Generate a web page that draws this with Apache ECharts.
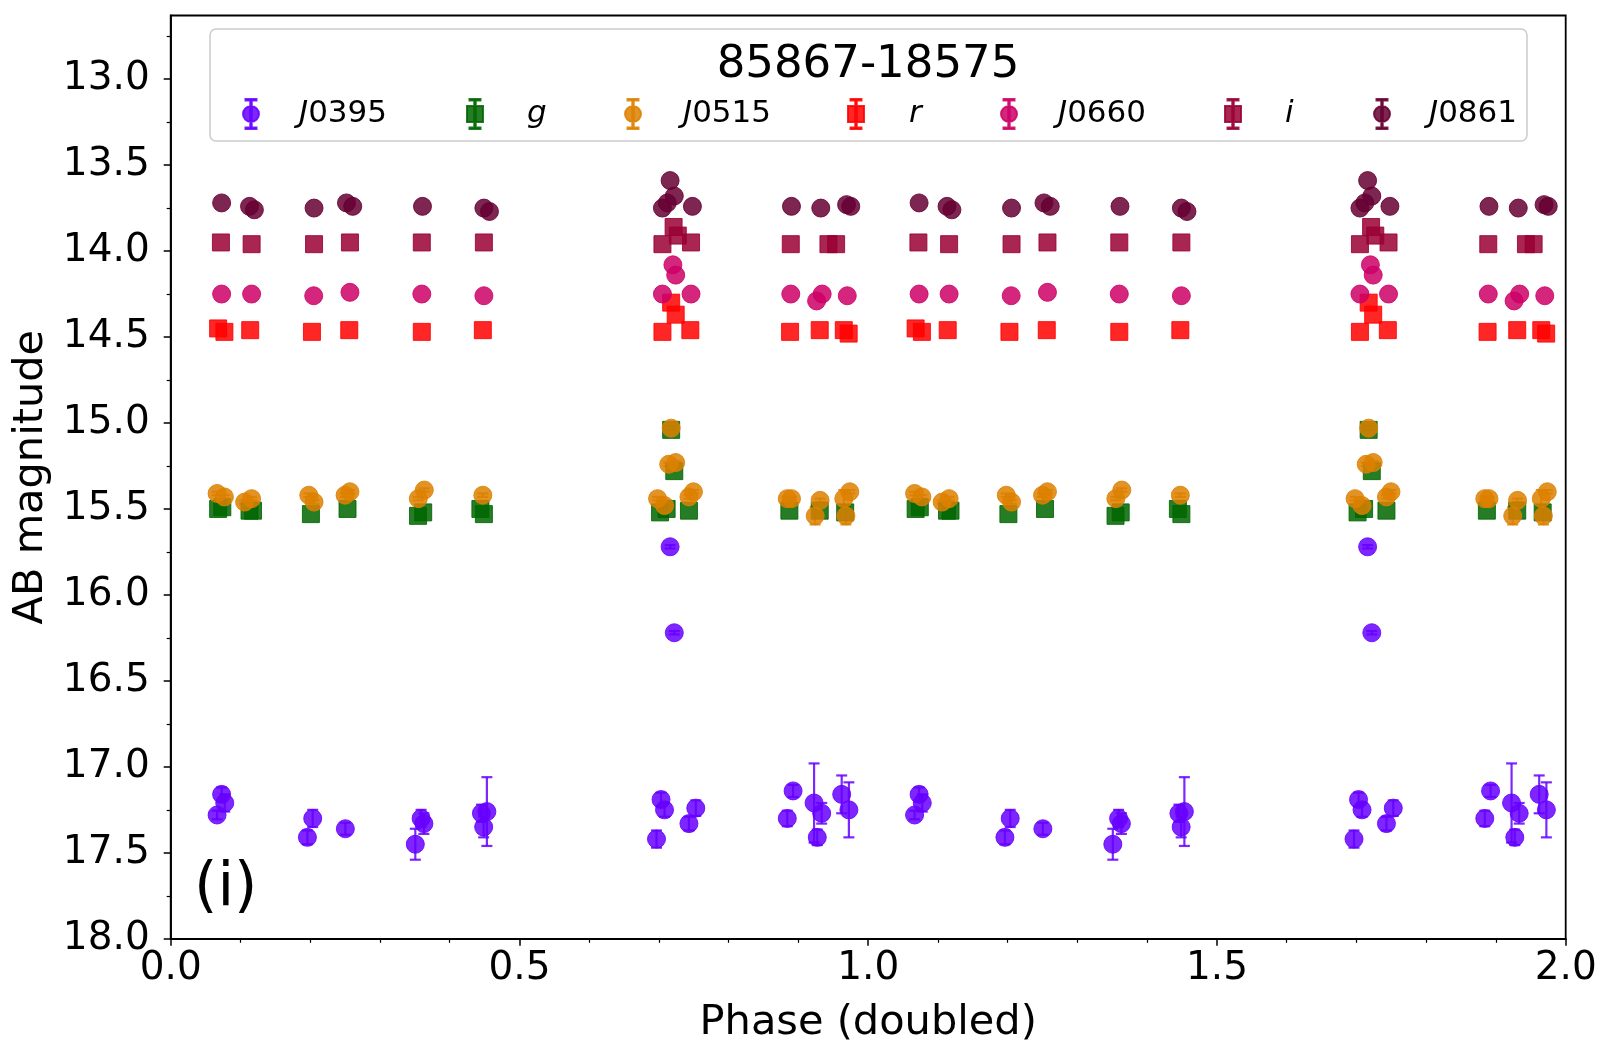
<!DOCTYPE html>
<html>
<head>
<meta charset="utf-8">
<title>85867-18575</title>
<script src="https://cdn.jsdelivr.net/npm/echarts@6/dist/echarts.min.js"></script>
<style>
  html, body { margin: 0; padding: 0; background: #fff; }
  #chart { width: 1615px; height: 1058px; }
</style>
</head>
<body>
<div id="chart"></div>
<script>
// phase-folded light curve, one cycle; plotted twice (phase and phase + 1)
var j0395Phase = [0.0665, 0.073, 0.0775, 0.196, 0.2036, 0.2504, 0.3507, 0.359, 0.363, 0.4455, 0.4487, 0.4533,
                  0.6965, 0.703, 0.708, 0.716, 0.722, 0.743, 0.7528, 0.884, 0.8923, 0.9224, 0.927, 0.9333, 0.962, 0.9723];
var j0395Mag   = [17.28, 17.16, 17.21, 17.41, 17.30, 17.36, 17.45, 17.30, 17.33, 17.27, 17.35, 17.26,
                  17.42, 17.19, 17.25, 15.72, 16.22, 17.33, 17.24, 17.30, 17.14, 17.21, 17.41, 17.27, 17.16, 17.25];
var j0395Err   = [0.025, 0.04, 0.05, 0.04, 0.05, 0.035, 0.09, 0.05, 0.06, 0.05, 0.06, 0.20,
                  0.05, 0.04, 0.04, 0.01, 0.01, 0.04, 0.045, 0.045, 0.035, 0.23, 0.045, 0.06, 0.11, 0.16];

var gPhase = [0.068, 0.074, 0.113, 0.118, 0.201, 0.2535, 0.3546, 0.362, 0.444, 0.449,
              0.7016, 0.711, 0.7175, 0.722, 0.743, 0.887, 0.9305, 0.967];
var gMag   = [15.50, 15.49, 15.51, 15.51, 15.53, 15.50, 15.54, 15.52, 15.50, 15.53,
              15.52, 15.50, 15.04, 15.28, 15.51, 15.51, 15.51, 15.52];

var j0515Phase = [0.0665, 0.077, 0.106, 0.116, 0.198, 0.2055, 0.250, 0.257, 0.355, 0.3636, 0.4475,
                  0.698, 0.708, 0.714, 0.7175, 0.724, 0.743, 0.7495, 0.884, 0.890, 0.924, 0.931, 0.965, 0.968, 0.9736];
var j0515Mag   = [15.41, 15.43, 15.46, 15.44, 15.42, 15.46, 15.42, 15.40, 15.44, 15.39, 15.42,
                  15.44, 15.48, 15.24, 15.03, 15.23, 15.43, 15.40, 15.44, 15.44, 15.54, 15.45, 15.44, 15.54, 15.40];
var j0515Err   = [0.01, 0.01, 0.01, 0.01, 0.01, 0.01, 0.01, 0.01, 0.01, 0.01, 0.01,
                  0.01, 0.01, 0.01, 0.01, 0.01, 0.01, 0.01, 0.01, 0.01, 0.05, 0.01, 0.05, 0.05, 0.01];

var rPhase = [0.068, 0.077, 0.114, 0.2025, 0.256, 0.360, 0.4475, 0.705, 0.7175, 0.724, 0.745, 0.888, 0.9305, 0.965, 0.972];
var rMag   = [14.45, 14.47, 14.46, 14.47, 14.46, 14.47, 14.46, 14.47, 14.30, 14.37, 14.46, 14.47, 14.46, 14.46, 14.48];

var j0660Phase = [0.073, 0.116, 0.205, 0.257, 0.360, 0.449, 0.705, 0.720, 0.724, 0.746, 0.889, 0.926, 0.934, 0.970];
var j0660Mag   = [14.25, 14.25, 14.26, 14.24, 14.25, 14.26, 14.25, 14.08, 14.14, 14.25, 14.25, 14.29, 14.25, 14.26];

var iPhase = [0.072, 0.116, 0.2055, 0.257, 0.360, 0.449, 0.705, 0.721, 0.727, 0.746, 0.889, 0.943, 0.954];
var iMag   = [13.95, 13.96, 13.96, 13.95, 13.95, 13.95, 13.96, 13.86, 13.91, 13.95, 13.96, 13.96, 13.96];

var j0861Phase = [0.073, 0.113, 0.120, 0.2055, 0.252, 0.261, 0.361, 0.449, 0.457, 0.705, 0.712, 0.716, 0.722, 0.748, 0.890, 0.932, 0.969, 0.975];
var j0861Mag   = [13.72, 13.74, 13.76, 13.75, 13.72, 13.74, 13.74, 13.75, 13.77, 13.75, 13.72, 13.59, 13.68, 13.74, 13.74, 13.75, 13.73, 13.74];

var yMajorTicks = [13.0, 13.5, 14.0, 14.5, 15.0, 15.5, 16.0, 16.5, 17.0, 17.5, 18.0];
var yMinorTicks = [12.75, 13.25, 13.75, 14.25, 14.75, 15.25, 15.75, 16.25, 16.75, 17.25, 17.75];

var bands = [
    { name: 'J0395', color: '#6600FF', symbol: 'circle', phase: j0395Phase, mag: j0395Mag, err: j0395Err },
    { name: 'g',     color: '#006600', symbol: 'rect',   phase: gPhase,     mag: gMag },
    { name: 'J0515', color: '#DD8000', symbol: 'circle', phase: j0515Phase, mag: j0515Mag, err: j0515Err },
    { name: 'r',     color: '#FF0000', symbol: 'rect',   phase: rPhase,     mag: rMag },
    { name: 'J0660', color: '#CC0066', symbol: 'circle', phase: j0660Phase, mag: j0660Mag },
    { name: 'i',     color: '#990033', symbol: 'rect',   phase: iPhase,     mag: iMag },
    { name: 'J0861', color: '#660033', symbol: 'circle', phase: j0861Phase, mag: j0861Mag }
];

// legend slot: icon left edge and gap before the text
var legendSlots = [[242, 35], [466, 39], [624, 37], [847, 40], [1000, 36], [1224, 39], [1373, 34]];

var FONT = 'DejaVu Sans';
var ALPHA = 0.85;

var circleIcon = 'path://M7.25,0h1.5v30h-1.5z M2.5,0h11v1.5h-11z M2.5,28.5h11v1.5h-11z ' +
    'M0,15a8,8 0 1,1 16,0a8,8 0 1,1 -16,0z';
var squareIcon = 'path://M7.25,0h1.5v30h-1.5z M2.5,0h11v1.5h-11z M2.5,28.5h11v1.5h-11z M0,7h16v16h-16z';

var doubled = function (phase, mag, err) {
    var out = [];
    for (var k = 0; k < 2; k++) {
        for (var n = 0; n < phase.length; n++) {
            out.push([phase[n] + k, mag[n], err ? err[n] : 0]);
        }
    }
    return out;
};

var errRender = function (color) {
    return function (params, api) {
        var x = api.value(0), y = api.value(1), e = api.value(2);
        if (!e) { return; }
        var a = api.coord([x, y - e]);
        var b = api.coord([x, y + e]);
        var hw = 5.5;
        var st = { stroke: color, lineWidth: 2.2, opacity: ALPHA };
        return {
            type: 'group',
            children: [
                { type: 'line', shape: { x1: a[0], y1: a[1], x2: b[0], y2: b[1] }, style: st },
                { type: 'line', shape: { x1: a[0] - hw, y1: a[1], x2: a[0] + hw, y2: a[1] }, style: st },
                { type: 'line', shape: { x1: b[0] - hw, y1: b[1], x2: b[0] + hw, y2: b[1] }, style: st }
            ]
        };
    };
};

var series = [];
bands.forEach(function (b) {
    var pts = doubled(b.phase, b.mag, b.err);
    if (b.err) {
        series.push({
            name: b.name + ' err',
            type: 'custom',
            renderItem: errRender(b.color),
            data: pts,
            encode: { x: 0, y: 1 },
            z: 1,
            silent: true
        });
    }
    series.push({
        name: b.name,
        type: 'scatter',
        data: pts,
        symbol: b.symbol,
        symbolSize: b.symbol === 'rect' ? 17 : 18,
        itemStyle: { color: b.color, opacity: ALPHA, borderColor: b.color, borderWidth: 1 },
        z: 2
    });
});

var legends = bands.map(function (b, n) {
    var slot = legendSlots[n];
    return {
        data: [b.name],
        left: slot[0],
        top: 98,
        padding: 0,
        itemWidth: 16,
        itemHeight: 30,
        icon: b.symbol === 'rect' ? squareIcon : circleIcon,
        itemStyle: { opacity: ALPHA },
        selectedMode: false,
        formatter: function (name) {
            if (name.charAt(0) === 'J') {
                return '{pad| }{it|J}{rm|' + name.slice(1) + '}';
            }
            return '{pad| }{it|' + name + '}';
        },
        textStyle: {
            fontFamily: FONT, fontSize: 31, color: '#000',
            rich: {
                pad: { width: slot[1], fontSize: 31, fontFamily: FONT },
                it: { fontStyle: 'italic', fontSize: 31, fontFamily: FONT, color: '#000' },
                rm: { fontSize: 31, fontFamily: FONT, color: '#000' }
            }
        }
    };
});

var chart = echarts.init(document.getElementById('chart'));
chart.setOption({
    animation: false,
    backgroundColor: '#fff',
    grid: {
        left: 170.7, right: 49.3, top: 15.5, bottom: 119.2,
        show: true, borderColor: '#000', borderWidth: 1.8, backgroundColor: 'transparent'
    },
    legend: legends,
    xAxis: {
        type: 'value',
        min: 0, max: 2, interval: 0.5,
        name: 'Phase (doubled)',
        nameLocation: 'middle',
        nameGap: 63,
        nameTextStyle: { fontFamily: FONT, fontSize: 41.5, color: '#000' },
        axisLine: { show: true, onZero: false, lineStyle: { color: '#000', width: 1.8 } },
        axisTick: { show: true, length: 7, lineStyle: { color: '#000', width: 1.5 } },
        minorTick: { show: true, splitNumber: 5, length: 4, lineStyle: { color: '#000', width: 1.2 } },
        axisLabel: {
            fontFamily: FONT, fontSize: 39, color: '#000', margin: 11,
            formatter: function (v) { return v.toFixed(1); }
        },
        splitLine: { show: false },
        minorSplitLine: { show: false }
    },
    yAxis: [{
        type: 'value',
        min: 12.63, max: 18, inverse: true,
        name: 'AB magnitude',
        nameLocation: 'middle',
        nameRotate: 90,
        nameGap: 112,
        nameTextStyle: { fontFamily: FONT, fontSize: 41.5, color: '#000' },
        axisLine: { show: true, onZero: false, lineStyle: { color: '#000', width: 1.8 } },
        axisTick: { show: true, length: 7, customValues: yMajorTicks, lineStyle: { color: '#000', width: 1.5 } },
        axisLabel: {
            fontFamily: FONT, fontSize: 39, color: '#000', margin: 21,
            customValues: yMajorTicks,
            formatter: function (v) { return v.toFixed(1); }
        },
        splitLine: { show: false }
    }, {
        type: 'value',
        min: 12.63, max: 18, inverse: true,
        position: 'left',
        axisLine: { show: false },
        axisTick: { show: true, length: 4, customValues: yMinorTicks, lineStyle: { color: '#000', width: 1.2 } },
        axisLabel: { show: false },
        splitLine: { show: false }
    }],
    graphic: [{
        type: 'rect',
        shape: { x: 210, y: 29, width: 1317, height: 112, r: 6 },
        style: { fill: 'rgba(255,255,255,0.8)', stroke: '#cccccc', lineWidth: 1.5 },
        z: 3
    }, {
        type: 'text',
        x: 868, y: 65,
        style: { text: '85867-18575', font: '45px "DejaVu Sans"', fill: '#000', textAlign: 'center', textVerticalAlign: 'middle' },
        z: 5
    }, {
        type: 'text',
        x: 194, y: 889,
        style: { text: '(i)', font: '60px "DejaVu Sans"', fill: '#000', textAlign: 'left', textVerticalAlign: 'middle' },
        z: 5
    }],
    series: series
});
</script>
</body>
</html>
